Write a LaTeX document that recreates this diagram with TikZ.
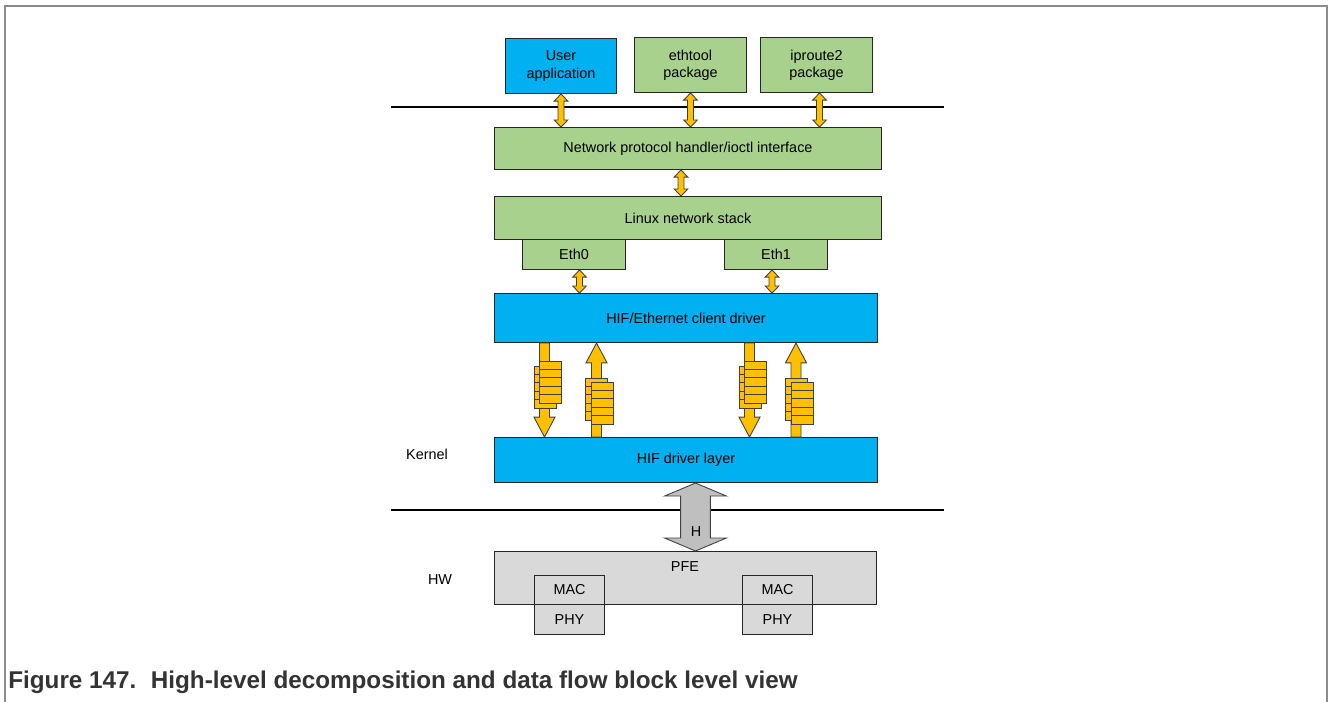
\documentclass[tikz,border=0pt]{standalone}
\usepackage{fontspec}
\setmainfont{Liberation Sans}
\usetikzlibrary{calc}
\definecolor{azul}{HTML}{00B0F0}
\definecolor{verde}{HTML}{A9D18E}
\definecolor{ambar}{HTML}{FFC000}
\definecolor{grisclaro}{HTML}{D9D9D9}
\definecolor{grismedio}{HTML}{BFBFBF}
\definecolor{contorno}{HTML}{404040}
\definecolor{marcogris}{HTML}{8C8C8C}
\tikzset{
  caja/.style={draw=black!85, line width=0.6pt, anchor=north west, inner sep=0pt, align=center,
               font=\fontsize{8.2}{9.8}\selectfont},
  cajaazul/.style={caja, fill=azul},
  cajaverde/.style={caja, fill=verde},
  cajagris/.style={caja, fill=grisclaro},
  etiqueta/.style={inner sep=0pt, font=\fontsize{8.2}{9.8}\selectfont},
  leyenda/.style={inner sep=0pt, text=black!80, font=\bfseries\fontsize{13.8}{16}\selectfont},
  separador/.style={draw=black, line width=0.6pt},
  marco/.style={draw=marcogris, line width=0.8pt},
  celda/.style={fill=ambar, draw=contorno, line width=0.5pt},
  dobleflecha/.style n args={3}{to path={let \p1=(\tikztostart), \p2=(\tikztotarget) in
    (\x1,\y1) -- (\x1+#2,\y1-#3) -- (\x1+#1,\y1-#3) -- (\x1+#1,\y2+#3) -- (\x1+#2,\y2+#3) -- (\x1,\y2)
    -- (\x1-#2,\y2+#3) -- (\x1-#1,\y2+#3) -- (\x1-#1,\y1-#3) -- (\x1-#2,\y1-#3) -- cycle}},
  flechad/.style={fill=ambar, draw=contorno, line width=0.5pt, dobleflecha={1.7pt}{3.9pt}{4pt}},
  flechagris/.style={fill=grismedio, draw=contorno, line width=0.5pt, dobleflecha={8.5pt}{17.6pt}{7.4pt}},
  bajada/.style={fill=ambar, draw=contorno, line width=0.5pt, to path={let \p1=(\tikztostart), \p2=(\tikztotarget) in
    (\x1-2.85pt,\y1) -- (\x1+2.85pt,\y1) -- (\x1+2.85pt,\y2+11.3pt) -- (\x1+6pt,\y2+11.3pt) -- (\x1,\y2)
    -- (\x1-6pt,\y2+11.3pt) -- (\x1-2.85pt,\y2+11.3pt) -- cycle}},
  subida/.style={fill=ambar, draw=contorno, line width=0.5pt, to path={let \p1=(\tikztostart), \p2=(\tikztotarget) in
    (\x1-2.85pt,\y1) -- (\x1+2.85pt,\y1) -- (\x1+2.85pt,\y2-11.3pt) -- (\x1+6pt,\y2-11.3pt) -- (\x1,\y2)
    -- (\x1-6pt,\y2-11.3pt) -- (\x1-2.85pt,\y2-11.3pt) -- cycle}},
  cola/.pic={\foreach \k in {0,...,4} {\draw[celda] (0,\k*8.4) rectangle ++(22,8.4);}},
}
\begin{document}
\begin{tikzpicture}[x=0.02cm, y=-0.02cm]
  \useasboundingbox (0,0) rectangle (1328,702);
  \draw[marco] (5,702) -- (5,6) -- (1327,6) -- (1327,702);
  % separadores de capas
  \draw[separador] (391,107) -- (944,107);
  \draw[separador] (391,510) -- (944,510);
  % espacio de usuario
  \node[cajaazul, minimum width=2.22cm, minimum height=1.1cm] (usr) at (505,38) {User\\application};
  \node[cajaverde, minimum width=2.24cm, minimum height=1.1cm] (etool) at (634,37) {ethtool\\package};
  \node[cajaverde, minimum width=2.24cm, minimum height=1.1cm] (iproute) at (760,37) {iproute2\\package};
  % kernel
  \node[cajaverde, minimum width=7.74cm, minimum height=0.84cm] (proto) at (494,127) {Network protocol handler/ioctl interface};
  \node[cajaverde, minimum width=7.74cm, minimum height=0.86cm] (stack) at (494,196) {Linux network stack};
  \node[cajaverde, minimum width=2.06cm, minimum height=0.6cm] (eth0) at (522,239) {Eth0};
  \node[cajaverde, minimum width=2.06cm, minimum height=0.6cm] (eth1) at (724,239) {Eth1};
  \node[cajaazul, minimum width=7.66cm, minimum height=0.98cm] (cli) at (494,293) {HIF/Ethernet client driver};
  \node[cajaazul, minimum width=7.66cm, minimum height=0.9cm] (hif) at (494,437) {HIF driver layer};
  \node[etiqueta] (kern) at (427,454) {Kernel};
  % hardware
  \node[cajagris, minimum width=7.64cm, minimum height=1.06cm] (pfe) at (494,551) {};
  \node[etiqueta] (pfetxt) at (685,567) {PFE};
  \foreach \i/\x in {0/534,1/742} {
    \node[cajagris, minimum width=1.4cm, minimum height=0.58cm] (mac\i) at (\x,575) {MAC};
    \node[cajagris, minimum width=1.4cm, minimum height=0.6cm] (phy\i) at (\x,604) {PHY};
  }
  \node[etiqueta] (hw) at (440,580) {HW};
  % flechas
  \draw[flechad] (usr.south) to (proto.north);
  \draw[flechad] (etool.south) to (proto.north);
  \draw[flechad] ($(iproute.south)+(3,0)$) to (proto.north);
  \draw[flechad] ($(proto.south)+(-7,0)$) to (stack.north);
  \draw[flechad] ($(eth0.south)+(5.5,0)$) to (cli.north);
  \draw[flechad] ($(eth1.south)+(-4,0)$) to (cli.north);
  \foreach \dx in {50.5,255.5} {
    \draw[bajada] ($(cli.south west)+(\dx,0)$) to ($(hif.north west)+(\dx,0)$);
    \pic at ($(cli.south west)+(\dx-10,23)$) {cola};
    \pic at ($(cli.south west)+(\dx-5,18)$) {cola};
  }
  \foreach \dx in {102.5,302} {
    \draw[subida] ($(hif.north west)+(\dx,0)$) to ($(cli.south west)+(\dx,0)$);
    \pic at ($(cli.south west)+(\dx-11,35)$) {cola};
    \pic at ($(cli.south west)+(\dx-5,39)$) {cola};
  }
  \draw[flechagris] ($(hif.south)+(9.5,0)$) to ($(pfe.north)+(9.5,0)$);
  \node[etiqueta] (hlbl) at ($(hif.south)+(10,48)$) {H};
  % pie de figura
  \node[leyenda, anchor=base west] (pie) at (8,688) {Figure 147.\hspace{0.6em}High-level decomposition and data flow block level view};
\end{tikzpicture}
\end{document}
